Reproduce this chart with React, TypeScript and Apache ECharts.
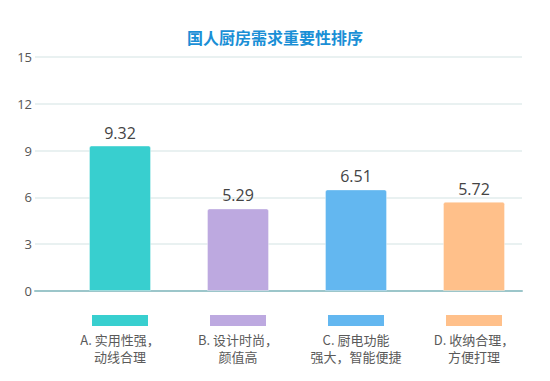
import React, { useEffect, useRef } from "react";
import * as echarts from "echarts";

const categories = ["A. 实用性强，\n动线合理", "B. 设计时尚，\n颜值高", "C. 厨电功能\n强大，智能便捷", "D. 收纳合理，\n方便打理"];
const values = [9.32, 5.29, 6.51, 5.72];
const colors = ["#38CFCF", "#BDA9E0", "#63B7F0", "#FFC08A"];
const yTicks = [0, 3, 6, 9, 12, 15];
const titleText = "国人厨房需求重要性排序";

export default function App() {
  const ref = useRef<HTMLDivElement>(null);
  useEffect(() => {
    const chart = echarts.init(ref.current!, null, { renderer: "svg" });
    const keys = ["a", "b", "c", "d"];
    const rich: any = {
      t: { fontSize: 13, color: "#5a5a5a", lineHeight: 17, fontFamily: "Noto Sans CJK SC" },
      sp: { height: 5, lineHeight: 5 },
    };
    keys.forEach((k, i) => {
      rich[k] = { width: 56, height: 11, backgroundColor: colors[i], borderColor: "#fff", borderWidth: 1 };
    });
    chart.setOption({
      animation: false,
      title: {
        text: titleText,
        left: "center",
        top: 24,
        textStyle: { color: "#1A8FD6", fontSize: 16, fontWeight: "bold", fontFamily: "Noto Sans CJK SC" },
      },
      grid: [
        { left: 35, right: 28, top: 57, bottom: 90 },
        { left: 61, right: 17, top: 57, bottom: 90 },
      ],
      xAxis: [
        {
          gridIndex: 0,
          type: "category",
          data: categories,
          axisLine: { show: true, lineStyle: { color: "#9CC6CA", width: 2 } },
          axisTick: { show: false },
          axisLabel: { show: false },
        },
        {
          gridIndex: 1,
          type: "category",
          data: categories,
          axisLine: { show: false },
          axisTick: { show: false },
          axisLabel: {
            margin: 24,
            interval: 0,
            formatter: (v: string, i: number) => {
              const lines = v.split("\n").map((l) => `{t|${l}}`).join("\n");
              return `{${keys[i]}|}\n{sp|}\n${lines}`;
            },
            rich,
          },
        },
      ],
      yAxis: [
        {
          gridIndex: 0,
          type: "value",
          min: 0,
          max: 15,
          interval: 3,
          axisLine: { show: false },
          axisTick: { show: false },
          axisLabel: {
            margin: 3,
            color: "#555",
            fontSize: 13,
            fontFamily: "Open Sans",
            formatter: (v: number) => (yTicks.includes(v) ? String(v) : ""),
          },
          splitLine: { lineStyle: { color: "#E2ECEC", width: 1.5 } },
        },
        {
          gridIndex: 1,
          type: "value",
          min: 0,
          max: 15,
          interval: 3,
          show: false,
          splitLine: { show: false },
        },
      ],
      series: [
        {
          type: "bar",
          xAxisIndex: 1,
          yAxisIndex: 1,
          barWidth: 62,
          data: values.map((v, i) => ({
            value: v,
            itemStyle: {
              color: colors[i],
              borderRadius: [2, 2, 0, 0],
              borderColor: "rgba(255,255,255,0.35)",
              borderWidth: 1,
            },
          })),
          label: {
            show: true,
            position: "top",
            distance: 5,
            color: "#444",
            fontSize: 16,
            fontFamily: "Open Sans",
          },
        },
      ],
    });
    return () => chart.dispose();
  }, []);
  return <div ref={ref} style={{ width: 550, height: 381, margin: -8 }} />;
}
